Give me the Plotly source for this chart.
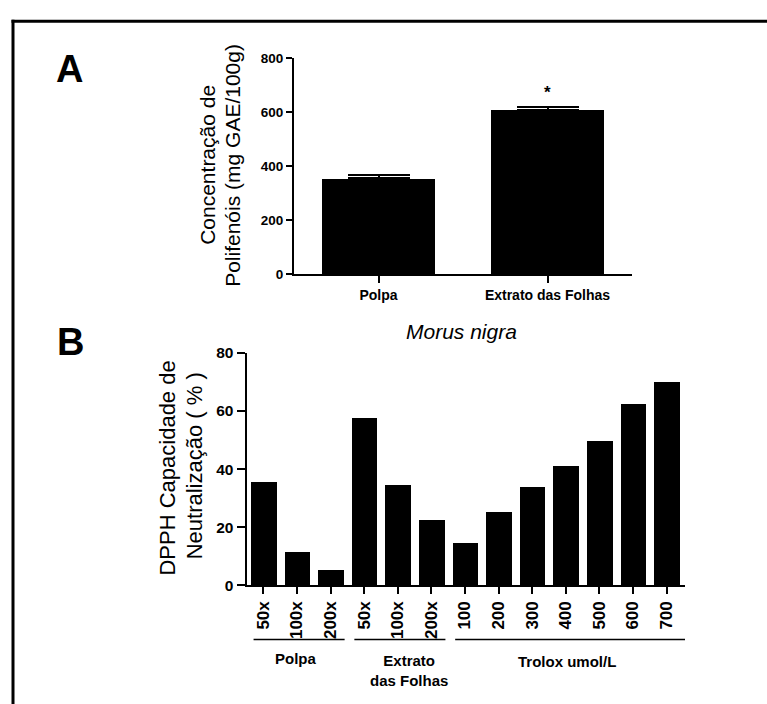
import plotly.graph_objects as go

W, H = 767, 704

# ---- data ----
a_categories = ["Polpa", "Extrato das Folhas"]
a_values = [355, 607]
a_errors = [14, 13]
a_significance = ["", "*"]

b_tick_labels = ["50x", "100x", "200x", "50x", "100x", "200x",
                 "100", "200", "300", "400", "500", "600", "700"]
b_values = [35.6, 11.5, 5.5, 57.7, 34.7, 22.5,
            14.6, 25.2, 34.0, 41.1, 49.7, 62.5, 70.1]
b_group_names = ["Polpa", "Extrato<br>das Folhas", "Trolox umol/L"]
b_group_start = [0, 3, 6]
b_group_end = [2, 5, 12]

a_yticks = [0, 200, 400, 600, 800]
b_yticks = [0, 20, 40, 60, 80]

FONT = "Liberation Sans, Arial, sans-serif"


def px_x(p):
    return p / W


def px_y(p):
    return 1 - p / H


fig = go.Figure()

fig.add_trace(go.Bar(
    x=list(range(len(a_categories))), y=a_values,
    marker=dict(color="black", line=dict(width=0)),
    width=0.67,
    error_y=dict(type="data", array=a_errors, arrayminus=[0] * len(a_errors),
                 symmetric=False, color="black", thickness=2, width=31),
    xaxis="x", yaxis="y", showlegend=False,
))

fig.add_trace(go.Bar(
    x=list(range(len(b_values))), y=b_values,
    marker=dict(color="black", line=dict(width=0)),
    width=0.76,
    xaxis="x2", yaxis="y2", showlegend=False,
))

axis_common = dict(showgrid=False, zeroline=False, showline=True, linecolor="black",
                   linewidth=2, ticks="outside", tickcolor="black", tickwidth=2,
                   fixedrange=True)

fig.update_layout(
    width=W, height=H,
    margin=dict(l=0, r=0, t=0, b=0),
    paper_bgcolor="white", plot_bgcolor="white",
    font=dict(family=FONT, color="black"),
    bargap=0,
    xaxis=dict(domain=[px_x(294), px_x(632)], range=[-0.5, 1.5], anchor="y",
               tickvals=list(range(len(a_categories))), ticktext=a_categories,
               tickfont=dict(size=14, weight="bold", family=FONT), ticklen=7,
               **axis_common),
    yaxis=dict(domain=[px_y(272), px_y(50)], range=[0, 800], anchor="x",
               tickvals=a_yticks, tickfont=dict(size=13.5, weight="bold", family=FONT),
               ticklen=6, **axis_common),
    xaxis2=dict(domain=[px_x(246.5), px_x(685)], range=[-0.5, 12.55], anchor="y2",
                tickvals=list(range(len(b_values))), ticktext=b_tick_labels,
                tickangle=-90,
                tickfont=dict(size=17, weight="bold", family=FONT), ticklen=7,
                **axis_common),
    yaxis2=dict(domain=[px_y(590.7), px_y(352.3)], range=[0, 80], anchor="x2",
                tickvals=b_yticks, tickfont=dict(size=15.5, weight="bold", family=FONT),
                ticklen=8, **axis_common),
)

annotations = []
# panel letters
annotations.append(dict(text="<b>A</b>", x=px_x(69), y=px_y(61), xref="paper", yref="paper",
                        showarrow=False, font=dict(size=38, family=FONT),
                        xanchor="center", yanchor="middle"))
annotations.append(dict(text="<b>B</b>", x=px_x(70), y=px_y(341), xref="paper", yref="paper",
                        showarrow=False, font=dict(size=38, family=FONT),
                        xanchor="center", yanchor="middle"))
# A y title
annotations.append(dict(text="Concentração de", x=px_x(206.7), y=px_y(160), xref="paper",
                        yref="paper", showarrow=False, textangle=-90,
                        font=dict(size=21, family=FONT), xanchor="center", yanchor="middle"))
annotations.append(dict(text="Polifenóis (mg GAE/100g)", x=px_x(231.7), y=px_y(160), xref="paper",
                        yref="paper", showarrow=False, textangle=-90,
                        font=dict(size=21, family=FONT), xanchor="center", yanchor="middle"))
# A x title
annotations.append(dict(text="<i>Morus nigra</i>", x=px_x(461), y=px_y(330), xref="paper",
                        yref="paper", showarrow=False, font=dict(size=21, family=FONT),
                        xanchor="center", yanchor="middle"))
# significance stars
for i, s in enumerate(a_significance):
    if s:
        annotations.append(dict(text="<b>" + s + "</b>", x=i, y=a_values[i] + a_errors[i],
                                xref="x", yref="y", showarrow=False, yanchor="bottom",
                                yshift=3, font=dict(size=17, family=FONT)))
# B y title
annotations.append(dict(text="DPPH Capacidade de", x=px_x(167.9), y=px_y(470), xref="paper",
                        yref="paper", showarrow=False, textangle=-90,
                        font=dict(size=22, family=FONT), xanchor="center", yanchor="middle"))
annotations.append(dict(text="Neutralização ( % )", x=px_x(194.6), y=px_y(468), xref="paper",
                        yref="paper", showarrow=False, textangle=-90,
                        font=dict(size=22, family=FONT), xanchor="center", yanchor="middle"))

# B group lines and labels
label_offsets = [-0.05, 0.35, 0.05]
shapes = []
for name, s, e, off in zip(b_group_names, b_group_start, b_group_end, label_offsets):
    x0 = s - 0.29
    x1 = e + 0.42 if e < len(b_values) - 1 else e + 0.72
    shapes.append(dict(type="line", xref="x2", yref="paper", x0=x0, x1=x1,
                       y0=px_y(646), y1=px_y(646), line=dict(color="black", width=1.5)))
    nlines = name.count("<br>") + 1
    ycenter = 666 if nlines == 1 else 677.7
    if "Trolox" in name:
        ycenter = 669
    annotations.append(dict(text="<b>" + name + "</b>", x=(s + e) / 2 + off,
                            y=px_y(ycenter), xref="x2", yref="paper", showarrow=False,
                            font=dict(size=15, family=FONT), xanchor="center",
                            yanchor="middle"))

# outer frame (left and top edges visible)
shapes.append(dict(type="line", xref="paper", yref="paper", x0=px_x(13), x1=px_x(13),
                   y0=px_y(11), y1=-0.05, line=dict(color="black", width=3)))
shapes.append(dict(type="line", xref="paper", yref="paper", x0=px_x(11.5), x1=1.05,
                   y0=px_y(12.5), y1=px_y(12.5), line=dict(color="black", width=3)))

fig.update_layout(annotations=annotations, shapes=shapes)

fig.write_html("out.html")
